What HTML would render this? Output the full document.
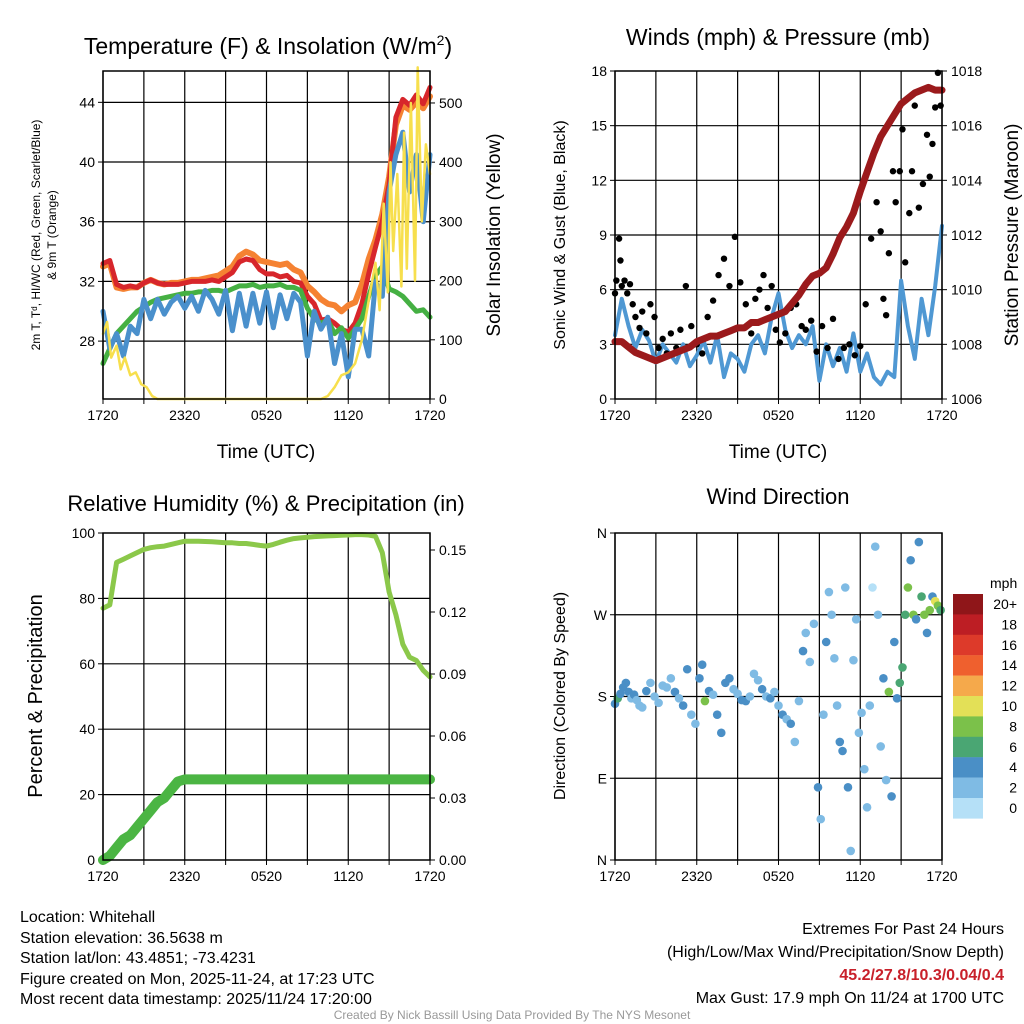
<!DOCTYPE html>
<html><head><meta charset="utf-8"><style>
html,body{margin:0;padding:0;background:#fff}
svg{display:block;font-family:"Liberation Sans",sans-serif}
</style></head><body>
<svg id="root" xmlns="http://www.w3.org/2000/svg" width="1024" height="1024" viewBox="0 0 1024 1024">
<rect width="1024" height="1024" fill="#fff"/>
<g id="p1"></g>
<g id="p2"></g>
<g id="p3"></g>
<g id="p4"></g>
<g id="txt" font-size="16" fill="#000">
<text x="20" y="922">Location: Whitehall</text>
<text x="20" y="943">Station elevation: 36.5638 m</text>
<text x="20" y="963">Station lat/lon: 43.4851; -73.4231</text>
<text x="20" y="984">Figure created on Mon, 2025-11-24, at 17:23 UTC</text>
<text x="20" y="1004">Most recent data timestamp: 2025/11/24 17:20:00</text>
<text x="1004" y="934" text-anchor="end">Extremes For Past 24 Hours</text>
<text x="1004" y="957" text-anchor="end">(High/Low/Max Wind/Precipitation/Snow Depth)</text>
<text x="1004" y="980" text-anchor="end" fill="#c8202a" font-weight="bold">45.2/27.8/10.3/0.04/0.4</text>
<text x="1004" y="1003" text-anchor="end">Max Gust: 17.9 mph On 11/24 at 1700 UTC</text>
<text x="512" y="1019" text-anchor="middle" font-size="12" fill="#999">Created By Nick Bassill Using Data Provided By The NYS Mesonet</text>
</g>
</svg>
<script>
// ---- data ----
const xTickLabels=["1720","2320","0520","1120","1720"];
const hours=[0,0.5,1,1.5,2,2.5,3,3.5,4,4.5,5,5.5,6,6.5,7,7.5,8,8.5,9,9.5,10,10.5,11,11.5,12,12.5,13,13.5,14,14.5,15,15.5,16,16.5,17,17.5,18,18.5,19,19.5,20,20.5,21,21.5,22,22.5,23,23.5,24];
const tempRed=[33.2,33.4,31.8,31.6,31.7,31.6,31.9,32.1,31.9,31.8,31.8,31.8,31.9,32.0,32.0,32.0,32.1,32.0,32.3,32.6,33.3,33.5,33.4,32.8,32.5,32.5,32.3,32.4,32.0,31.9,31.0,30.5,29.4,29.5,29.2,28.8,28.6,29.2,30.5,32.5,34.3,36.0,38.5,43.0,44.2,43.8,44.5,43.9,45.0];
const tempOrange=[33.0,33.2,31.6,31.5,31.6,31.6,31.9,32.1,31.9,31.8,31.9,31.9,32.0,32.1,32.1,32.2,32.3,32.4,32.7,33.0,33.7,34.0,33.8,33.4,33.3,33.2,33.1,33.2,32.8,32.6,31.7,31.3,30.8,30.5,30.4,30.0,30.4,30.6,31.8,33.5,34.8,36.5,39.0,42.5,43.8,43.5,44.0,43.6,44.4];
const tempGreen=[26.5,27.5,28.5,29.0,29.5,30.0,30.3,30.6,30.8,30.9,31.0,31.1,31.2,31.2,31.3,31.3,31.4,31.4,31.3,31.5,31.7,31.7,31.8,31.6,31.7,31.7,31.8,31.6,31.6,31.4,30.2,29.5,29.2,29.4,28.5,28.9,28.2,28.8,29.5,31.0,32.4,33.0,31.5,31.3,31.0,30.5,30.0,30.1,29.6];
const tempBlue=[30.0,27.5,28.5,27.0,29.0,28.5,30.8,29.5,30.8,29.8,30.6,31.0,30.2,31.0,30.0,31.4,30.8,29.8,31.4,28.7,31.2,29.0,31.2,29.2,31.3,28.9,31.1,29.5,31.2,30.6,27.0,30.0,28.8,29.6,26.5,28.5,25.6,28.8,28.8,27.0,32.0,31.0,38.0,40.5,42.0,38.0,40.5,36.0,40.5];
const solarHours=[0,0.3,0.6,1,1.3,1.6,2,2.4,2.8,3.2,3.6,4,8,12,16,16.5,17,17.5,18,18.5,19,19.3,19.6,20,20.3,20.6,20.9,21.1,21.3,21.6,21.9,22.1,22.3,22.6,22.9,23.1,23.4,23.7,24];
const solarValues=[110,130,70,90,50,70,40,45,25,20,5,0,0,0,0,5,20,40,45,60,100,140,180,230,150,330,180,400,250,380,190,450,220,500,200,560,300,430,380];
const pressure=[1008.1,1008.1,1007.9,1007.7,1007.6,1007.5,1007.4,1007.5,1007.6,1007.7,1007.8,1007.9,1008.1,1008.2,1008.3,1008.3,1008.4,1008.5,1008.6,1008.6,1008.8,1008.8,1008.9,1009.0,1009.1,1009.2,1009.5,1009.8,1010.2,1010.5,1010.6,1010.8,1011.3,1011.9,1012.3,1012.8,1013.6,1014.3,1015.0,1015.6,1016.0,1016.4,1016.8,1017.0,1017.2,1017.3,1017.4,1017.3,1017.3];
const windSpeed=[3.5,5.5,4.0,2.8,3.8,3.2,2.0,3.0,2.5,2.0,3.0,1.8,2.4,3.2,2.0,3.5,1.2,2.5,2.2,1.5,3.0,3.5,2.5,4.5,5.8,3.8,2.8,3.5,3.0,4.0,1.0,3.0,1.8,2.8,1.5,3.6,1.5,2.5,1.2,0.8,1.5,1.2,6.5,4.0,2.2,5.5,3.5,6.2,9.5];
const gustHours=[0,0.1,0.3,0.4,0.5,0.7,0.9,1.1,1.3,1.5,1.8,2.0,2.3,2.6,2.9,3.2,3.5,3.8,4.1,4.5,4.8,5.2,5.6,6.0,6.4,6.8,7.2,7.6,8.0,8.4,8.8,9.2,9.6,10.0,10.3,10.6,10.9,11.2,11.5,11.8,12.1,12.5,12.9,13.3,13.7,14.0,14.4,14.8,15.2,15.6,16.0,16.4,16.8,17.2,17.6,18.0,18.4,18.8,19.2,19.5,19.7,19.9,20.1,20.4,20.6,20.9,21.1,21.3,21.6,21.8,22.0,22.3,22.6,22.9,23.1,23.3,23.5,23.7,23.9];
const gustValues=[5.8,6.5,8.8,7.6,6.2,6.5,5.8,6.3,5.2,4.5,3.9,4.8,3.6,5.2,4.5,2.8,3.3,2.5,3.6,2.8,3.8,6.2,4.0,3.0,2.5,4.5,5.4,6.8,7.7,6.2,8.9,6.4,5.2,3.6,5.5,6.0,6.8,5.0,6.2,3.8,3.1,3.6,5.0,5.2,4.0,3.8,4.3,2.6,4.0,2.8,4.4,2.2,2.8,3.0,2.4,2.9,5.2,8.8,10.8,9.2,5.5,4.6,8.0,12.5,10.8,12.5,14.8,7.5,10.2,12.5,16.1,10.5,11.8,14.5,12.2,14.0,16.0,17.9,16.1];
const rhValues=[77,78,91,92,93,94,95,95.5,95.8,96,96.5,97,97.5,97.5,97.5,97.4,97.3,97.2,97.0,97.0,96.8,96.8,96.5,96.2,96.0,96.5,97.2,97.8,98.3,98.5,98.7,98.9,99.0,99.1,99.2,99.3,99.4,99.5,99.5,99.4,99.0,94,82,75,66,62,61,58,56];
const precipValues=[0,0.002,0.006,0.010,0.012,0.016,0.020,0.024,0.028,0.030,0.034,0.038,0.039,0.039,0.039,0.039,0.039,0.039,0.039,0.039,0.039,0.039,0.039,0.039,0.039,0.039,0.039,0.039,0.039,0.039,0.039,0.039,0.039,0.039,0.039,0.039,0.039,0.039,0.039,0.039,0.039,0.039,0.039,0.039,0.039,0.039,0.039,0.039,0.039];
const dirHours=[0,0.2,0.4,0.6,0.8,1.0,1.2,1.4,1.6,1.8,2.0,2.3,2.6,2.9,3.2,3.5,3.8,4.1,4.4,4.7,5.0,5.3,5.6,5.9,6.2,6.4,6.6,6.9,7.2,7.5,7.8,8.1,8.4,8.7,9.0,9.3,9.6,9.9,10.2,10.5,10.8,11.1,11.4,11.7,12.0,12.3,12.6,12.9,13.2,13.5,13.8,14.0,14.3,14.6,14.9,15.1,15.3,15.5,15.7,15.9,16.1,16.3,16.5,16.7,16.9,17.1,17.3,17.5,17.7,17.9,18.1,18.3,18.5,18.7,18.9,19.1,19.3,19.5,19.7,19.9,20.1,20.3,20.5,20.7,20.9,21.1,21.3,21.5,21.7,21.9,22.1,22.3,22.5,22.7,22.9,23.1,23.3,23.5,23.7,23.9];
const dirDegrees=[172,178,183,190,195,185,178,182,176,170,168,186,195,180,173,192,190,200,185,178,170,210,160,150,200,215,175,186,182,160,140,195,200,188,183,176,175,180,205,198,188,180,178,185,170,160,155,150,130,175,230,250,218,260,80,45,160,240,295,270,222,170,130,120,300,80,10,220,265,140,162,100,58,170,300,345,270,125,200,88,185,70,240,178,195,212,270,300,330,270,265,350,290,270,250,275,290,285,280,275];
const dirSpeed=[3,6,4,3,4,3,2,3,2,2,2,3,2,2,2,1,2,2,3,2,3,4,2,1,3,4,7,3,2,3,4,4,3,2,2,3,4,1,2,2,3,1,4,2,2,4,1,3,1,2,4,2,1,2,3,1,2,3,1,1,2,1,4,3,2,3,1,2,1,2,1,1,1,1,0,1,2,1,3,1,7,4,3,4,6,5,6,7,4,7,3,4,6,7,4,7,4,9,8,6];
const speedLabels=["20+","18","16","14","12","10","8","6","4","2","0"];
const speedColors=["#8f1619","#bd1e24","#dd3a2a","#ef602e","#f5a94b","#e3e057","#7bc14a","#4aa673","#4a8fc6","#7fbbe4","#b5e0f7"];

// ---- helpers ----
const NS="http://www.w3.org/2000/svg";
function mk(parent,tag,attrs,text){const e=document.createElementNS(NS,tag);for(const k in attrs)e.setAttribute(k,attrs[k]);if(text!==undefined)e.textContent=text;parent.appendChild(e);return e;}
function panel(g,L,R,T,B){
  const xs=h=>L+(R-L)*h/24;
  for(let i=0;i<=8;i++){const x=xs(i*3);const ln=mk(g,'line',{x1:x,x2:x,y1:T,y2:B,stroke:'#000','stroke-width':1.2});
    
    
    const tk=mk(g,'line',{x1:x,x2:x,y1:B,y2:B+5,stroke:'#000'});
    
    }
  xTickLabels.forEach((t,i)=>{const e=mk(g,'text',{x:xs(i*6),y:B+21,'text-anchor':'middle','font-size':14},t);
    
    });
  return xs;
}
function frame(g,L,R,T,B){const r=mk(g,'rect',{x:L,y:T,width:R-L,height:B-T,fill:'none',stroke:'#000','stroke-width':1.5});
  
  }
function hgrid(g,L,R,y){const ln=mk(g,'line',{x1:L,x2:R,y1:y,y2:y,stroke:'#000','stroke-width':1.2});
  
  }
function ytick(g,x,y,label,side,name){const dx=side==='l'?-5:5;mk(g,'line',{x1:x,x2:x+dx,y1:y,y2:y,stroke:'#000'});
  const e=mk(g,'text',{x:side==='l'?x-8:x+9,y:y+5,'text-anchor':side==='l'?'end':'start','font-size':14},label);
  
  }
function line(g,xs,ys,color,w,name){const d=xs.map((x,i)=>(i?'L':'M')+x.toFixed(1)+','+ys[i].toFixed(1)).join('');
  const p=mk(g,'path',{d:d,fill:'none',stroke:color,'stroke-width':w,'stroke-linejoin':'round','stroke-linecap':'round'});
  
  return p;}
function title(g,x,y,t,name,size){const e=mk(g,'text',{x:x,y:y,'text-anchor':'middle','font-size':size||23},t);
  
  return e;}
function vlabel(g,x,y,t,name,size){const e=mk(g,'text',{x:x,y:y,'text-anchor':'middle','font-size':size||19,transform:`rotate(-90 ${x} ${y})`},t);
  
  return e;}

// ---- Panel 1 ----
(function(){const g=document.getElementById('p1');const L=103,R=430,T=71,B=399;
  const xs=panel(g,L,R,T,B);
  const yT=v=>B-(v-24.12)*(B-T)/(46.1-24.12);
  const yS=v=>B-v*(B-T)/554;
  [28,32,36,40,44].forEach(v=>{hgrid(g,L,R,yT(v));ytick(g,L,yT(v),String(v),'l','temp-tick-label');});
  [0,100,200,300,400,500].forEach(v=>ytick(g,R,yS(v),String(v),'r','solar-tick-label'));
  const hx=hours.map(xs);
  line(g,hx,tempOrange.map(yT),'#f58232',6,'9m-temp-line');
  line(g,hx,tempRed.map(yT),'#d7262b',5,'2m-temp-line');
  line(g,hx,tempGreen.map(yT),'#45b043',5,'dewpoint-line');
  line(g,hx,tempBlue.map(yT),'#4a90cc',5,'windchill-line');
  line(g,solarHours.map(xs),solarValues.map(yS),'#f7df4d',2.5,'solar-line');
  frame(g,L,R,T,B);
  const t=title(g,268,54,'Temperature (F) & Insolation (W/m','panel1-title');
  const ts=mk(t,'tspan',{dy:-9,'font-size':14},'2');
  mk(t,'tspan',{dy:9},')');
  title(g,266,458,'Time (UTC)','panel1-x-title',19);
  vlabel(g,40,235,'2m T, T\u1d48, HI/WC (Red, Green, Scarlet/Blue)','panel1-y-title',12);
  vlabel(g,56,235,'& 9m T (Orange)','panel1-y-title-2',12);
  vlabel(g,500,235,'Solar Insolation (Yellow)','panel1-y2-title',19);
})();

// ---- Panel 2 ----
(function(){const g=document.getElementById('p2');const L=615,R=942,T=71,B=399;
  const xs=panel(g,L,R,T,B);
  const yW=v=>B-v*(B-T)/18;
  const yP=v=>B-(v-1006)*(B-T)/12;
  [3,6,9,12,15].forEach(v=>hgrid(g,L,R,yW(v)));
  [0,3,6,9,12,15,18].forEach(v=>ytick(g,L,yW(v),String(v),'l','wind-tick-label'));
  [1006,1008,1010,1012,1014,1016,1018].forEach(v=>ytick(g,R,yP(v),String(v),'r','pressure-tick-label'));
  line(g,hours.map(xs),windSpeed.map(yW),'#4f98d3',4,'sonic-wind-line');
  gustHours.forEach((h,i)=>{const c=mk(g,'circle',{cx:xs(h),cy:yW(gustValues[i]),r:3.2,fill:'#000'});
    
    });
  line(g,hours.map(xs),pressure.map(yP),'#9b1a1c',7,'pressure-line');
  frame(g,L,R,T,B);
  title(g,778,45,'Winds (mph) & Pressure (mb)','panel2-title');
  title(g,778,458,'Time (UTC)','panel2-x-title',19);
  vlabel(g,565,235,'Sonic Wind & Gust (Blue, Black)','panel2-y-title',16);
  vlabel(g,1018,235,'Station Pressure (Maroon)','panel2-y2-title',19);
})();

// ---- Panel 3 ----
(function(){const g=document.getElementById('p3');const L=103,R=430,T=533,B=860;
  const xs=panel(g,L,R,T,B);
  const yR=v=>B-v*(B-T)/100;
  const yP=v=>B-v*310/0.15;
  [20,40,60,80].forEach(v=>hgrid(g,L,R,yR(v)));
  [0,20,40,60,80,100].forEach(v=>ytick(g,L,yR(v),String(v),'l','rh-tick-label'));
  [0,0.03,0.06,0.09,0.12,0.15].forEach(v=>ytick(g,R,yP(v),v.toFixed(2),'r','precip-tick-label'));
  const hx=hours.map(xs);
  line(g,hx,rhValues.map(yR),'#8bc84a',5,'rh-line');
  line(g,hx,precipValues.map(yP),'#4bb543',10,'precip-line');
  frame(g,L,R,T,B);
  title(g,266,511,'Relative Humidity (%) & Precipitation (in)','panel3-title',22);
  vlabel(g,42,696,'Percent & Precipitation','panel3-y-title',20);
})();

// ---- Panel 4 ----
(function(){const g=document.getElementById('p4');const L=615,R=942,T=533,B=860;
  const xs=panel(g,L,R,T,B);
  const yD=v=>B-v*(B-T)/360;
  ['N','E','S','W','N'].forEach((t,i)=>{const v=i*90;if(i>0&&i<4)hgrid(g,L,R,yD(v));ytick(g,L,yD(v),t,'l','direction-tick-label');});
  dirHours.forEach((h,i)=>{const s=dirSpeed[i];const bin=Math.min(10,Math.floor((s+1)/2));
    const c=mk(g,'circle',{cx:xs(h),cy:yD(dirDegrees[i]),r:4.3,fill:speedColors[10-bin]});
    
    });
  frame(g,L,R,T,B);
  title(g,778,504,'Wind Direction','panel4-title',22);
  vlabel(g,565,696,'Direction (Colored By Speed)','panel4-y-title',16);
  const lg=mk(g,'g',{});
  
  
  const ttl=mk(lg,'text',{x:990,y:588,'font-size':14},'mph');
  
  
  speedColors.forEach((c,i)=>{const y=594+i*20.4;
    const r=mk(lg,'rect',{x:953,y:y,width:30,height:20.6,fill:c});
    
    
    const t=mk(lg,'text',{x:1017,y:y+15,'text-anchor':'end','font-size':14},speedLabels[i]);
    
    });
})();
</script>
</body></html>
